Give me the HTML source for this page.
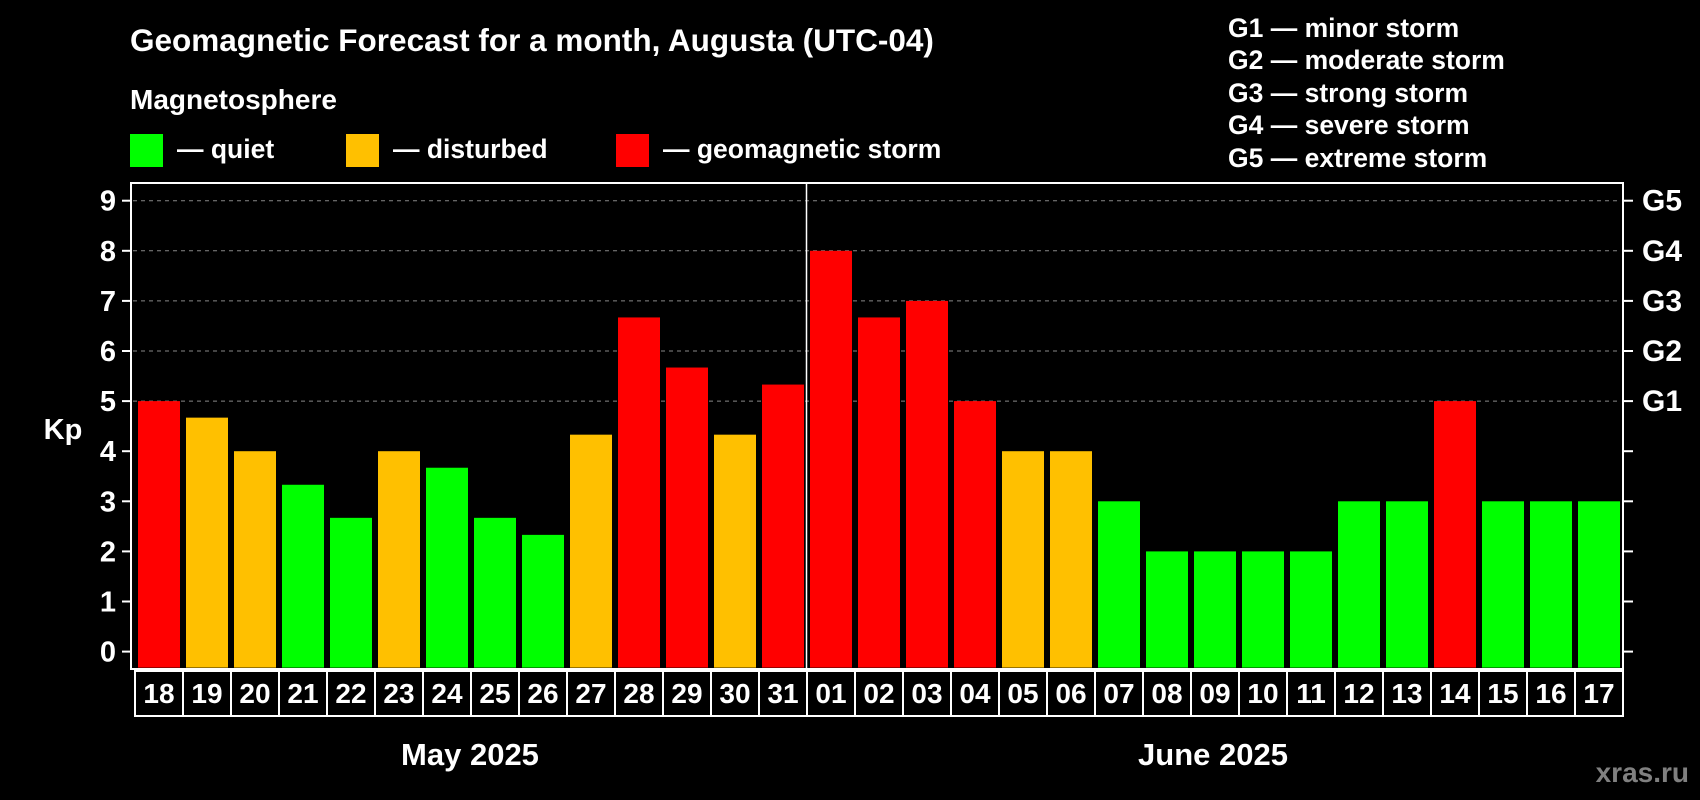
<!DOCTYPE html>
<html><head><meta charset="utf-8">
<style>
html,body{margin:0;padding:0;background:#000;}
svg{display:block;font-family:"Liberation Sans",Arial,sans-serif;font-weight:bold;}
</style></head>
<body>
<svg id="chart" width="1700" height="800" viewBox="0 0 1700 800">
  <text x="130" y="51" fill="#fff" font-size="31.5">Geomagnetic Forecast for a month, Augusta (UTC-04)</text>
  <text x="130" y="109" fill="#fff" font-size="28">Magnetosphere</text>
  <g>
    <rect x="130" y="134" width="33" height="33" fill="#00ff00"/>
    <text x="177" y="158" fill="#fff" font-size="26.5">— quiet</text>
  </g>
  <g>
    <rect x="346" y="134" width="33" height="33" fill="#ffc000"/>
    <text x="393" y="158" fill="#fff" font-size="26.5">— disturbed</text>
  </g>
  <g>
    <rect x="616" y="134" width="33" height="33" fill="#ff0000"/>
    <text x="663" y="158" fill="#fff" font-size="26.5">— geomagnetic storm</text>
  </g>
  <g font-size="26.5" fill="#fff">
    <text x="1228" y="37">G1 — minor storm</text>
    <text x="1228" y="69">G2 — moderate storm</text>
    <text x="1228" y="102">G3 — strong storm</text>
    <text x="1228" y="134">G4 — severe storm</text>
    <text x="1228" y="167">G5 — extreme storm</text>
  </g>
  <text x="63" y="439" fill="#fff" font-size="29" text-anchor="middle">Kp</text>
  <g id="grid"></g>
  <g id="bars"></g>
  <g id="dates"></g>
  <rect x="131" y="183" width="1492" height="486" fill="none" stroke="#fff" stroke-width="2"/>
  <line x1="806.5" y1="183" x2="806.5" y2="669" stroke="#fff" stroke-width="1.5"/>
  <text x="470" y="765" fill="#fff" font-size="31" text-anchor="middle">May 2025</text>
  <text x="1213" y="765" fill="#fff" font-size="31" text-anchor="middle">June 2025</text>
  <text x="1689" y="782" fill="#808080" font-size="28" text-anchor="end">xras.ru</text>
</svg>
<script>
const days = ["18","19","20","21","22","23","24","25","26","27","28","29","30","31","01","02","03","04","05","06","07","08","09","10","11","12","13","14","15","16","17"];
const kpValues = [5,4.67,4,3.33,2.67,4,3.67,2.67,2.33,4.33,6.67,5.67,4.33,5.33,8,6.67,7,5,4,4,3,2,2,2,2,3,3,5,3,3,3];
const yTicks = [0,1,2,3,4,5,6,7,8,9];
const gLabels = ["","","","","","G1","G2","G3","G4","G5"];

const NS = "http://www.w3.org/2000/svg";
const y = v => 651.6 - v * 50.1;
const slotX = i => 134 + i * 48;
function mk(tag, attrs, parent){const e=document.createElementNS(NS,tag);for(const k in attrs)e.setAttribute(k,attrs[k]);parent.appendChild(e);return e;}
const grid=document.getElementById("grid"), bars=document.getElementById("bars"), dates=document.getElementById("dates");

yTicks.forEach((t,i)=>{
  if(t>=5){
    const gl=mk("line",{x1:133,x2:1621,y1:y(t),y2:y(t),stroke:"#888","stroke-dasharray":"4,4","stroke-width":1},grid);
    
    
  }
  const lt=mk("line",{x1:122,x2:131,y1:y(t),y2:y(t),stroke:"#fff","stroke-width":2},grid);
  
  
  const rt=mk("line",{x1:1623,x2:1633,y1:y(t),y2:y(t),stroke:"#fff","stroke-width":2},grid);
  
  
  const tl=mk("text",{x:116,y:y(t)+10,fill:"#fff","font-size":29,"text-anchor":"end"},grid);
  tl.textContent=t;
  
  
  if(gLabels[i]){
    const gt=mk("text",{x:1642,y:y(t)+10,fill:"#fff","font-size":30},grid);
    gt.textContent=gLabels[i];
    
    
  }
});

kpValues.forEach((v,i)=>{
  const col = v>=5 ? "#ff0000" : (v>=4 ? "#ffc000" : "#00ff00");
  const b=mk("rect",{x:slotX(i)+4,y:y(v),width:42,height:y(0)+16-y(v),fill:col},bars);
  
  
  const bx=mk("rect",{x:slotX(i)+1,y:671,width:48,height:45,fill:"none",stroke:"#fff","stroke-width":2},dates);
  
  
  const dt=mk("text",{x:slotX(i)+25,y:703,fill:"#fff","font-size":28,"text-anchor":"middle"},dates);
  dt.textContent=days[i];
  
  
});
</script>
</body></html>
